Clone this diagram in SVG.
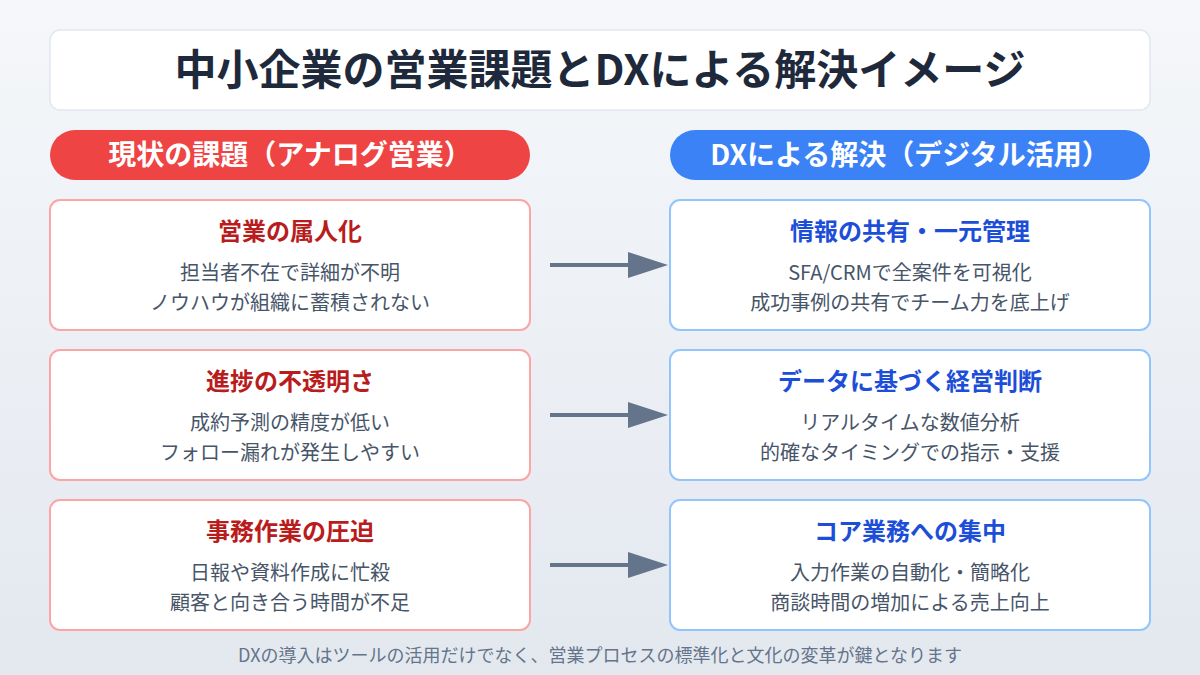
<svg xmlns="http://www.w3.org/2000/svg" width="1200" height="675" viewBox="0 0 1200 675">
<defs>
<linearGradient id="bg" x1="0" y1="0" x2="0" y2="1"><stop offset="0" stop-color="#f5f7fa"/><stop offset="1" stop-color="#e3e8ef"/></linearGradient>
</defs>
<style>
text{font-family:"Noto Sans CJK JP","Noto Sans",sans-serif;text-anchor:middle}
.t{font-size:42px;font-weight:700;fill:#1e293b}
.pill{font-size:28px;font-weight:700;fill:#fff}
.lc{fill:#fff;stroke:#fca5a5;stroke-width:2}
.rc{fill:#fff;stroke:#93c5fd;stroke-width:2}
.lh{font-size:24px;font-weight:700;fill:#b91c1c}
.rh{font-size:24px;font-weight:700;fill:#1d4ed8}
.b{font-size:20px;fill:#475569}
.arr{stroke:#64748b;stroke-width:4}
</style>
<rect width="1200" height="675" fill="url(#bg)"/>
<g id="title"><rect x="50" y="30" width="1100" height="80" rx="10" fill="#fff" stroke="#e2e8f0" stroke-width="1.5"/><text class="t" x="600" y="85">中小企業の営業課題とDXによる解決イメージ</text></g>
<g id="hdr-left"><rect x="50" y="130" width="480" height="50" rx="25" fill="#ef4444"/><text class="pill" x="290" y="165">現状の課題（アナログ営業）</text></g>
<g id="hdr-right"><rect x="670" y="130" width="480" height="50" rx="25" fill="#3b82f6"/><text class="pill" x="910" y="165">DXによる解決（デジタル活用）</text></g>
<g id="l1"><rect class="lc" x="50" y="200" width="480" height="130" rx="10"/><text class="lh" x="290" y="240">営業の属人化</text><text class="b" x="290" y="280">担当者不在で詳細が不明</text><text class="b" x="290" y="310">ノウハウが組織に蓄積されない</text></g>
<g id="l2"><rect class="lc" x="50" y="350" width="480" height="130" rx="10"/><text class="lh" x="290" y="390">進捗の不透明さ</text><text class="b" x="290" y="430">成約予測の精度が低い</text><text class="b" x="290" y="460">フォロー漏れが発生しやすい</text></g>
<g id="l3"><rect class="lc" x="50" y="500" width="480" height="130" rx="10"/><text class="lh" x="290" y="540">事務作業の圧迫</text><text class="b" x="290" y="580">日報や資料作成に忙殺</text><text class="b" x="290" y="610">顧客と向き合う時間が不足</text></g>
<g id="r1"><rect class="rc" x="670" y="200" width="480" height="130" rx="10"/><text class="rh" x="910" y="240">情報の共有・一元管理</text><text class="b" x="910" y="280">SFA/CRMで全案件を可視化</text><text class="b" x="910" y="310">成功事例の共有でチーム力を底上げ</text></g>
<g id="r2"><rect class="rc" x="670" y="350" width="480" height="130" rx="10"/><text class="rh" x="910" y="390">データに基づく経営判断</text><text class="b" x="910" y="430">リアルタイムな数値分析</text><text class="b" x="910" y="460">的確なタイミングでの指示・支援</text></g>
<g id="r3"><rect class="rc" x="670" y="500" width="480" height="130" rx="10"/><text class="rh" x="910" y="540">コア業務への集中</text><text class="b" x="910" y="580">入力作業の自動化・簡略化</text><text class="b" x="910" y="610">商談時間の増加による売上向上</text></g>
<g id="connectors" fill="#64748b">
<line class="arr" x1="550" y1="265" x2="632" y2="265"/><polygon points="628,252 668,265 628,278"/>
<line class="arr" x1="550" y1="415" x2="632" y2="415"/><polygon points="628,402 668,415 628,428"/>
<line class="arr" x1="550" y1="565" x2="632" y2="565"/><polygon points="628,552 668,565 628,578"/>
</g>
<text x="600" y="662" style="font-size:18px;fill:#64748b">DXの導入はツールの活用だけでなく、営業プロセスの標準化と文化の変革が鍵となります</text>
</svg>
